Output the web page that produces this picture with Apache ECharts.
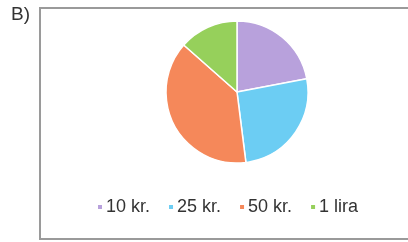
<!DOCTYPE html>
<html>
<head>
<meta charset="utf-8">
<script src="https://cdn.jsdelivr.net/npm/echarts@6/dist/echarts.min.js"></script>
<style>
  html, body { margin: 0; padding: 0; background: #fff; }
  #chart { width: 408px; height: 242px; }
</style>
</head>
<body>
<div id="chart"></div>
<script>
const categories = ['10 kr.', '25 kr.', '50 kr.', '1 lira']
const values = [22, 26, 38.5, 13.5]
const colors = ['#b8a1dc', '#6ccdf3', '#f5885a', '#96d05b']

const chart = echarts.init(document.getElementById('chart'))

chart.setOption({
  animation: false,
  color: colors,
  graphic: [
    {
      type: 'rect',
      shape: { x: 40, y: 8, width: 380, height: 231 },
      style: { fill: 'none', stroke: '#9a9a9a', lineWidth: 2 }
    },
    {
      type: 'text',
      left: 11,
      top: 5,
      style: { text: 'B)', fontSize: 19, fill: '#333', fontFamily: 'Liberation Sans' }
    }
  ],
  legend: {
    data: categories,
    top: 193,
    left: 91,
    icon: 'rect',
    itemWidth: 6,
    itemHeight: 6,
    itemGap: 17,
    textStyle: {
      fontSize: 18,
      color: '#333',
      fontFamily: 'Liberation Sans',
      padding: [0, 0, 0, -2]
    }
  },
  series: [
    {
      type: 'pie',
      center: [237, 92],
      radius: 71,
      startAngle: 90,
      clockwise: true,
      label: { show: false },
      labelLine: { show: false },
      itemStyle: { borderColor: '#fff', borderWidth: 1.5 },
      data: categories.map((name, i) => ({ name, value: values[i] }))
    }
  ]
})
</script>
</body>
</html>
